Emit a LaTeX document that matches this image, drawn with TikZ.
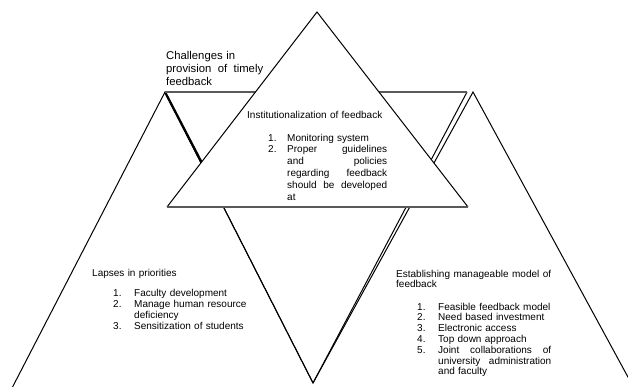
\documentclass[tikz,border=0pt]{standalone}
\usepackage{fontspec}
\setmainfont{Liberation Sans}
\newcommand{\jline}[2]{\leavevmode\hbox to #1{#2}}
\newcommand{\numb}[2]{\makebox[#1][l]{#2}}
\newcommand{\gp}{\hfill}
\begin{document}
\begin{tikzpicture}[x=1pt,y=-1pt,
  edge/.style={black,line width=1pt},
  rim/.style={draw=black!65,line width=1.6pt},
  txt/.style={inner sep=0pt,anchor=base west,text width=170pt,font=\fontsize{10}{11.6}\selectfont},
  big/.style={inner sep=0pt,anchor=base west,text width=120pt,font=\fontsize{11.3}{13}\selectfont}]
\useasboundingbox (0,0) rectangle (628,386);
\coordinate (LA) at (165,92);
\coordinate (LB) at (11,390);
\coordinate (M) at (313,383);
\coordinate (RA) at (473,92);
\coordinate (RB) at (635,390);
\coordinate (IR) at (467,92);
\coordinate (T) at (317,12);
\coordinate (TL) at (167,207);
\coordinate (TR) at (468,207);
\coordinate (LK) at (204,167);
\begin{scope}
\clip (0,0) rectangle (628,386);
\draw[edge] (LB) -- (LA) -- (M);
\draw[edge] (M) -- (RA) -- (RB);
\draw[edge] (LA) -- (M) -- (IR);
\draw[black,line width=2.3pt] (LA) -- (LK);
\draw[rim] (LA) -- (IR);
\fill[white] (T) -- (TR) -- (TL) -- cycle;
\draw[edge] (TL) -- (T) -- (TR);
\draw[rim] (TL) -- (TR);
\end{scope}
\node[big] (ch) at (166,59) {Challenges in\\\jline{97pt}{provision\gp of\gp timely}\\feedback};
\node[txt] (insth) at (247,118) {Institutionalization of feedback};
\node[txt,font=\fontsize{10}{11.9}\selectfont] (instl) at (268,141) {\numb{19pt}{1.}Monitoring system\\
\numb{19pt}{2.}\jline{100pt}{Proper\gp guidelines}\\
\hspace*{19pt}\jline{100pt}{and\gp policies}\\
\hspace*{19pt}\jline{100pt}{regarding\gp feedback}\\
\hspace*{19pt}\jline{100pt}{should\gp be\gp developed}\\
\hspace*{19pt}at};
\node[txt] (laph) at (92,276) {Lapses in priorities};
\node[txt,font=\fontsize{10}{11.2}\selectfont] (lapl) at (113,296) {\numb{21pt}{1.}Faculty development\\
\numb{21pt}{2.}Manage human resource\\
\hspace*{21pt}deficiency\\
\numb{21pt}{3.}Sensitization of students};
\node[txt,font=\fontsize{10}{10.6}\selectfont] (esth) at (396,277) {\jline{155pt}{Establishing\gp manageable\gp model\gp of}\\feedback};
\node[txt,font=\fontsize{10}{10.8}\selectfont] (estl) at (417,310) {\numb{21pt}{1.}Feasible feedback model\\
\numb{21pt}{2.}Need based investment\\
\numb{21pt}{3.}Electronic access\\
\numb{21pt}{4.}Top down approach\\
\numb{21pt}{5.}\jline{113pt}{Joint\gp collaborations\gp of}\\
\hspace*{21pt}\jline{113pt}{university\gp administration}\\
\hspace*{21pt}and faculty};
\end{tikzpicture}
\end{document}
